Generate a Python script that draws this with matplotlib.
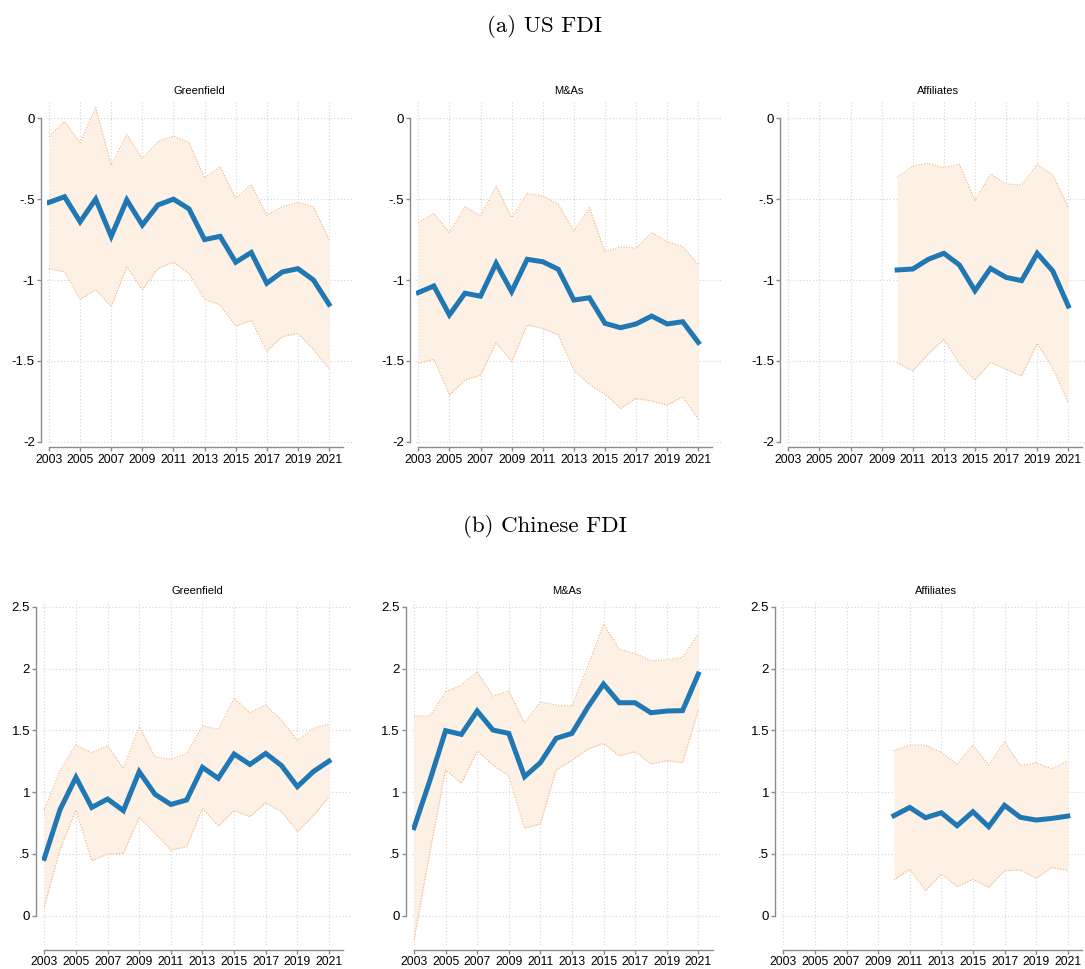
import numpy as np
import matplotlib.pyplot as plt

years = np.arange(2003, 2022)
aff_years = np.arange(2010, 2022)

# US FDI: point estimates and 95% bands
us_green = [-0.52, -0.485, -0.64, -0.50, -0.73, -0.505, -0.66, -0.536, -0.50, -0.56,
            -0.75, -0.73, -0.89, -0.83, -1.02, -0.95, -0.93, -1.00, -1.15]
us_green_hi = [-0.113, -0.02, -0.15, 0.068, -0.29, -0.10, -0.25, -0.144, -0.11, -0.15,
               -0.37, -0.30, -0.495, -0.41, -0.60, -0.546, -0.52, -0.546, -0.75]
us_green_lo = [-0.93, -0.95, -1.12, -1.06, -1.165, -0.92, -1.06, -0.93, -0.89, -0.96,
               -1.12, -1.155, -1.285, -1.25, -1.44, -1.35, -1.33, -1.43, -1.55]

us_ma = [-1.078, -1.037, -1.216, -1.082, -1.10, -0.897, -1.072, -0.872, -0.887, -0.934,
         -1.124, -1.11, -1.268, -1.295, -1.272, -1.223, -1.272, -1.258, -1.386]
us_ma_hi = [-0.645, -0.588, -0.707, -0.546, -0.604, -0.419, -0.614, -0.464, -0.48, -0.532,
            -0.697, -0.553, -0.825, -0.794, -0.804, -0.705, -0.763, -0.794, -0.903]
us_ma_lo = [-1.515, -1.49, -1.711, -1.619, -1.588, -1.388, -1.505, -1.278, -1.299, -1.34,
            -1.557, -1.649, -1.705, -1.794, -1.732, -1.749, -1.773, -1.722, -1.862]

us_aff = [-0.938, -0.932, -0.872, -0.835, -0.907, -1.066, -0.928, -0.984, -1.004, -0.835,
          -0.944, -1.161]
us_aff_hi = [-0.365, -0.295, -0.278, -0.305, -0.285, -0.509, -0.344, -0.406, -0.412, -0.285,
             -0.35, -0.551]
us_aff_lo = [-1.511, -1.563, -1.458, -1.367, -1.52, -1.619, -1.509, -1.553, -1.594, -1.392,
             -1.546, -1.759]

# Chinese FDI
cn_green = [0.464, 0.86, 1.119, 0.876, 0.944, 0.85, 1.165, 0.982, 0.90, 0.936,
            1.20, 1.111, 1.308, 1.224, 1.313, 1.214, 1.044, 1.165, 1.251]
cn_green_hi = [0.855, 1.178, 1.381, 1.319, 1.375, 1.192, 1.529, 1.286, 1.265, 1.313,
               1.535, 1.508, 1.758, 1.645, 1.704, 1.583, 1.416, 1.516, 1.551]
cn_green_lo = [0.073, 0.537, 0.855, 0.445, 0.499, 0.504, 0.796, 0.666, 0.531, 0.558,
               0.868, 0.725, 0.85, 0.801, 0.914, 0.841, 0.68, 0.806, 0.963]

cn_ma = [0.712, 1.092, 1.497, 1.467, 1.656, 1.502, 1.475, 1.125, 1.238, 1.435,
         1.475, 1.686, 1.874, 1.723, 1.723, 1.642, 1.656, 1.659, 1.955]
cn_ma_hi = [1.615, 1.615, 1.812, 1.866, 1.974, 1.777, 1.818, 1.561, 1.731, 1.704,
            1.696, 2.015, 2.36, 2.155, 2.122, 2.063, 2.069, 2.09, 2.279]
cn_ma_lo = [-0.197, 0.51, 1.179, 1.071, 1.332, 1.219, 1.13, 0.707, 0.742, 1.179,
            1.259, 1.346, 1.394, 1.292, 1.327, 1.227, 1.254, 1.238, 1.664]

cn_aff = [0.809, 0.876, 0.793, 0.833, 0.728, 0.841, 0.72, 0.893, 0.796, 0.774, 0.787, 0.806]
cn_aff_hi = [1.335, 1.381, 1.381, 1.321, 1.227, 1.381, 1.219, 1.408, 1.214, 1.238, 1.187, 1.254]
cn_aff_lo = [0.289, 0.375, 0.202, 0.337, 0.235, 0.294, 0.229, 0.364, 0.369, 0.302, 0.391, 0.364]

panel_titles = ['Greenfield', 'M&As', 'Affiliates']
us_yticks = [-2, -1.5, -1, -0.5, 0]
us_ylabels = ['-2', '-1.5', '-1', '-.5', '0']
cn_yticks = [0, 0.5, 1, 1.5, 2, 2.5]
cn_ylabels = ['0', '.5', '1', '1.5', '2', '2.5']
xticks = np.arange(2003, 2022, 2)

# tick labels get rebuilt at draw time, so set their font globally
plt.rcParams['font.family'] = 'Liberation Sans'
plt.rcParams['xtick.labelsize'] = 8.7
plt.rcParams['ytick.labelsize'] = 9.5

W, H = 1085, 969
fig = plt.figure(figsize=(W / 100, H / 100), dpi=100)

blue = '#1f77b4'
fill = '#fdf0e4'
edge = '#f6b07a'
XMIN, XMAX = 2002.85, 2022.45


def make_axes(p2003, p2021, ytop_px, ybot_px, ylim, val_top, val_bot):
    # p2003/p2021: pixel x of the year ticks; ytop/ybot: pixel y of two tick values
    s = (p2021 - p2003) / 18.0
    left = p2003 - (2003 - XMIN) * s
    right = p2003 + (XMAX - 2003) * s
    sy = (ybot_px - ytop_px) / (val_top - val_bot)
    top = ytop_px - (ylim[1] - val_top) * sy
    bot = ybot_px + (val_bot - ylim[0]) * sy
    return fig.add_axes([left / W, 1 - bot / H, (right - left) / W, (bot - top) / H])


def draw(ax, x, est, lo, hi, title, ylim, yticks, ylabels):
    ax.fill_between(x, lo, hi, color=fill, lw=0, zorder=1)
    ax.plot(x, hi, color=edge, lw=0.8, ls=(0, (1, 1.5)), zorder=2)
    ax.plot(x, lo, color=edge, lw=0.8, ls=(0, (1, 1.5)), zorder=2)
    ax.plot(x, est, color=blue, lw=3.6, solid_joinstyle='miter', zorder=3)
    ax.set_xlim(XMIN, XMAX)
    ax.set_ylim(*ylim)
    ax.set_xticks(xticks)
    ax.set_xticklabels([str(t) for t in xticks])
    ax.set_yticks(yticks)
    ax.set_yticklabels(ylabels)
    ax.grid(True, color='#d4d4d4', ls=(0, (1, 2)), lw=0.8)
    ax.set_axisbelow(True)
    for side in ['top', 'right']:
        ax.spines[side].set_visible(False)
    ax.spines['left'].set_position(('outward', 4))
    ax.spines['bottom'].set_position(('outward', 3))
    ax.spines['left'].set_bounds(yticks[0], yticks[-1])
    ax.spines['bottom'].set_bounds(2003, 2021.9)
    for side in ['left', 'bottom']:
        ax.spines[side].set_color('#8c8c8c')
        ax.spines[side].set_linewidth(1.0)
    ax.tick_params(axis='both', colors='#8c8c8c', labelcolor='black', length=3, width=1.0, pad=1.5)
    ax.set_title(title, fontsize=8, pad=5)


us_data = [(years, us_green, us_green_lo, us_green_hi),
           (years, us_ma, us_ma_lo, us_ma_hi),
           (aff_years, us_aff, us_aff_lo, us_aff_hi)]
cn_data = [(years, cn_green, cn_green_lo, cn_green_hi),
           (years, cn_ma, cn_ma_lo, cn_ma_hi),
           (aff_years, cn_aff, cn_aff_lo, cn_aff_hi)]

us_x = [(49, 329), (418.3, 698.3), (788.3, 1068.3)]
cn_x = [(44.3, 329), (414, 698.3), (783.3, 1067.7)]

for i in range(3):
    ax = make_axes(us_x[i][0], us_x[i][1], 118.3, 441.7, (-2.01, 0.105), 0, -2)
    x, est, lo, hi = us_data[i]
    draw(ax, x, est, lo, hi, panel_titles[i], (-2.01, 0.105), us_yticks, us_ylabels)

    ax = make_axes(cn_x[i][0], cn_x[i][1], 606.7, 915.7, (-0.24, 2.55), 2.5, 0)
    x, est, lo, hi = cn_data[i]
    draw(ax, x, est, lo, hi, panel_titles[i], (-0.24, 2.55), cn_yticks, cn_ylabels)

fig.text(545 / W, 1 - 26 / H, '(a) US FDI', family='cmr10', fontsize=16.5, ha='center', va='center')
fig.text(545 / W, 1 - 526 / H, '(b) Chinese FDI', family='cmr10', fontsize=16.5, ha='center', va='center')

fig.savefig('out.png', dpi=100)
